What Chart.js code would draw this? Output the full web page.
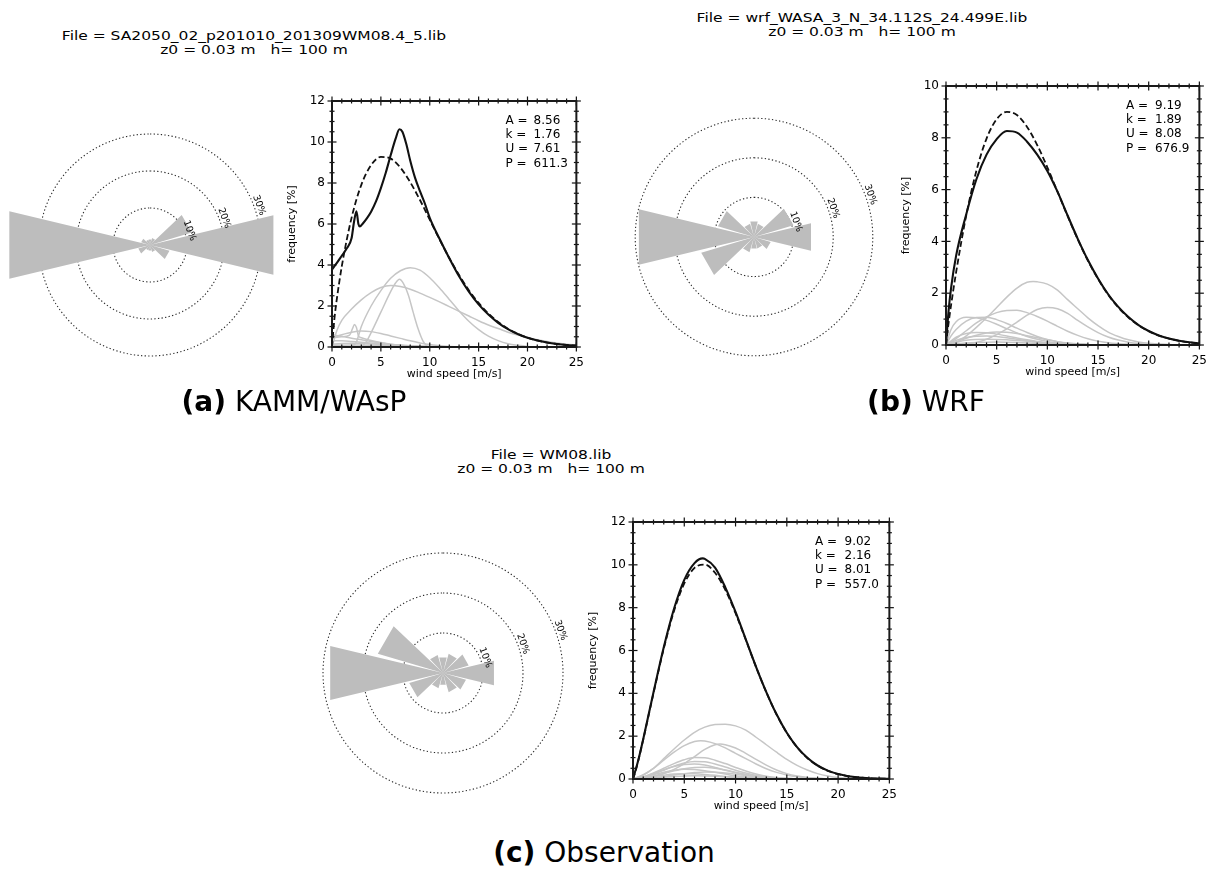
<!DOCTYPE html>
<html>
<head>
<meta charset="utf-8">
<script src="https://cdn.jsdelivr.net/npm/chart.js@4.4.1/dist/chart.umd.min.js"></script>
<style>
  html, body { margin: 0; padding: 0; background: #fff; width: 1211px; height: 874px; overflow: hidden; }
  .pane { position: absolute; }
  .ttl { position: absolute; font-family: "DejaVu Sans"; font-size: 15.5px; line-height: 17.5px; color: #000;
         text-align: center; white-space: pre; transform-origin: 50% 0; transform: translateX(-50%) scaleY(0.82); }
  .cap { position: absolute; font-family: "DejaVu Sans"; font-size: 28px; line-height: 28px; color: #000;
         white-space: pre; transform: translateX(-50%); }
  .cap b { font-weight: bold; }
</style>
</head>
<body>

<div class="ttl" style="left:254px; top:29px;">File = SA2050_02_p201010_201309WM08.4_5.lib
z0 = 0.03 m   h= 100 m</div>
<div class="ttl" style="left:862px; top:11px;">File = wrf_WASA_3_N_34.112S_24.499E.lib
z0 = 0.03 m   h= 100 m</div>
<div class="ttl" style="left:551px; top:448px;">File = WM08.lib
z0 = 0.03 m   h= 100 m</div>

<div class="pane" style="left:0px; top:95px;"><canvas id="roseA" width="300" height="300"></canvas></div>
<div class="pane" style="left:282px; top:86px;"><canvas id="distA" width="311" height="299"></canvas></div>
<div class="pane" style="left:604px; top:87px;"><canvas id="roseB" width="300" height="300"></canvas></div>
<div class="pane" style="left:896px; top:71px;"><canvas id="distB" width="320" height="312"></canvas></div>
<div class="pane" style="left:293px; top:523px;"><canvas id="roseC" width="300" height="300"></canvas></div>
<div class="pane" style="left:583px; top:507px;"><canvas id="distC" width="323" height="310"></canvas></div>

<div class="cap" style="left:294px; top:388px;"><b>(a)</b> KAMM/WAsP</div>
<div class="cap" style="left:926px; top:388px;"><b>(b)</b> WRF</div>
<div class="cap" style="left:604px; top:839px;"><b>(c)</b> Observation</div>

<script>
// ---- wind rose: sector directions (deg from north) and sector frequencies [%]
const sectorDirs = [0, 30, 60, 90, 120, 150, 180, 210, 240, 270, 300, 330];
const kammRose = [1.5, 2.0, 11.8, 34.3, 5.5, 2.0, 1.5, 1.5, 3.3, 39.1, 2.5, 1.5];
const wrfRose  = [4.0, 3.5, 10.4, 14.8, 4.4, 3.0, 3.0, 4.0, 13.9, 29.9, 9.5, 3.5];
const obsRose  = [4.0, 5.0, 6.7, 13.1, 6.0, 5.0, 3.0, 4.0, 8.8, 29.0, 17.0, 4.7];
const ringLevels = [10, 20, 30];
const ringLabels = ['10%', '20%', '30%'];

// ---- frequency distributions: wind speed [m/s] vs frequency [%]
const statNames = ['A =', 'k =', 'U =', 'P ='];
const kammStats = ['8.56', '1.76', '7.61', '611.3'];
const wrfStats  = ['9.19', '1.89', '8.08', '676.9'];
const obsStats  = ['9.02', '2.16', '8.01', '557.0'];

const fitSpeeds = [0, 0.25, 0.5, 1, 2, 3, 4, 5, 6, 7, 8, 9, 10, 11, 12, 13, 14, 15, 16, 17, 18, 19, 20, 21, 22, 23, 24, 25];
const kammFit = [0, 1.40, 2.36, 3.93, 6.30, 7.91, 8.87, 9.27, 9.19, 8.75, 8.04, 7.17, 6.21, 5.25, 4.34, 3.51, 2.77, 2.15, 1.63, 1.22, 0.89, 0.645, 0.457, 0.318, 0.217, 0.146, 0.097, 0.064];
const wrfFit  = [0, 0.83, 1.54, 2.81, 5.01, 6.73, 7.97, 8.72, 9.00, 8.88, 8.42, 7.72, 6.86, 5.92, 4.98, 4.08, 3.26, 2.55, 1.94, 1.45, 1.06, 0.759, 0.531, 0.365, 0.245, 0.162, 0.104, 0.066];
const obsFit  = [0, 0.37, 0.83, 1.85, 4.01, 6.09, 7.85, 9.13, 9.86, 10.01, 9.63, 8.83, 7.74, 6.50, 5.23, 4.05, 3.01, 2.15, 1.48, 0.98, 0.625, 0.383, 0.226, 0.129, 0.071, 0.037, 0.018, 0.008];

// all-sector histograms as [speed, frequency] pairs
const kammTotal = [[0,3.78],[0.5,4.1],[1,4.45],[1.5,4.8],[2,5.3],[2.25,6.1],[2.5,6.62],[2.7,6.0],[2.85,5.88],[3.2,6.05],[3.6,6.3],[4,6.6],[4.5,7.1],[5,7.75],[5.5,8.5],[6,9.35],[6.5,10.15],[6.9,10.62],[7.2,10.5],[7.6,9.9],[8,9.1],[8.5,8.25],[9,7.6],[9.5,7.0],[10,6.3],[11,5.28],[12,4.33],[13,3.45],[14,2.7],[15,2.08],[16,1.58],[17,1.18],[18,0.87],[19,0.63],[20,0.45],[21,0.32],[22,0.22],[23,0.15],[24,0.1],[25,0.065]];
const wrfTotal = [[0,0],[0.25,1.3],[0.5,2.2],[1,3.45],[2,5.05],[3,6.4],[4,7.35],[5,7.95],[6,8.26],[7,8.2],[8,7.85],[9,7.35],[10,6.72],[11,5.92],[12,5.0],[13,4.1],[14,3.28],[15,2.57],[16,1.96],[17,1.47],[18,1.08],[19,0.77],[20,0.54],[21,0.37],[22,0.25],[23,0.165],[24,0.106],[25,0.068]];
const obsTotal = [[0,0],[0.5,0.85],[1,1.87],[2,4.05],[3,6.15],[4,7.95],[5,9.3],[6,10.08],[6.8,10.3],[7,10.28],[8,9.87],[9,8.95],[10,7.8],[11,6.52],[12,5.24],[13,4.06],[14,3.02],[15,2.16],[16,1.49],[17,0.99],[18,0.63],[19,0.39],[20,0.23],[21,0.13],[22,0.072],[23,0.038],[24,0.018],[25,0.008]];

// per-sector histograms
const kammSectors = [
  [[0,0],[0.5,0.8],[1,1.3],[2,1.85],[3,2.3],[4,2.65],[5,2.9],[6,3.0],[7,2.95],[8,2.82],[9,2.63],[10,2.42],[11,2.2],[12,1.97],[13,1.74],[14,1.51],[15,1.28],[16,1.07],[17,0.9],[18,0.72],[19,0.58],[20,0.46],[21,0.36],[22,0.27],[23,0.2],[24,0.14],[25,0.1]],
  [[2,0],[2.5,0.25],[3,1.0],[4,2.0],[5,2.75],[6,3.35],[7,3.72],[8,3.87],[9,3.75],[10,3.38],[11,2.88],[12,2.32],[13,1.76],[14,1.26],[15,0.85],[16,0.53],[17,0.31],[18,0.16],[19,0.08],[20,0.03],[22,0]],
  [[3,0],[3.5,0.25],[4,0.7],[5,1.7],[6,2.7],[6.5,3.12],[6.9,3.3],[7.3,3.1],[7.8,2.55],[8.3,1.7],[8.8,0.9],[9.3,0.3],[9.8,0]],
  [[0,0.45],[1,0.5],[1.8,0.58],[2.1,0.9],[2.3,1.1],[2.5,0.95],[2.7,0.55],[3,0.45],[4,0.32],[5,0.22],[6,0.14],[8,0.06],[10,0.02],[12,0]],
  [[0,0.45],[1,0.6],[2,0.72],[3,0.78],[4,0.75],[5,0.66],[6,0.54],[7,0.42],[8,0.3],[9,0.2],[10,0.12],[11,0.07],[12,0.03],[14,0]],
  [[0,0.6],[1,0.52],[2,0.43],[3,0.35],[4,0.27],[5,0.2],[6,0.14],[8,0.06],[10,0.02],[12,0]],
  [[0,0.3],[1,0.3],[2,0.27],[3,0.23],[5,0.14],[7,0.07],[9,0.03],[11,0]],
  [[0,0.15],[2,0.18],[4,0.15],[6,0.1],[8,0.05],[10,0.02],[12,0]],
  [[0,0.08],[2,0.1],[4,0.09],[6,0.06],[8,0.03],[10,0.01],[12,0]]
];
const wrfSectors = [
  [[0,0],[1,0.1],[2,0.35],[3,0.68],[4,1.05],[5,1.45],[6,1.85],[7,2.2],[8,2.42],[8.6,2.45],[9,2.44],[10,2.35],[11,2.12],[12,1.75],[13,1.4],[14,1.05],[15,0.75],[16,0.5],[17,0.33],[18,0.2],[19,0.12],[20,0.07],[22,0.02],[25,0]],
  [[0,0],[2,0.03],[3,0.1],[4,0.22],[5,0.4],[6,0.62],[7,0.88],[8,1.15],[9,1.37],[10,1.45],[11,1.4],[12,1.22],[13,0.95],[14,0.7],[15,0.48],[16,0.31],[17,0.19],[18,0.11],[19,0.06],[20,0.03],[22,0.01]],
  [[0,0],[1,0.25],[2,0.55],[3,0.85],[4,1.08],[5,1.25],[6,1.33],[7,1.34],[8,1.25],[9,1.1],[10,0.92],[11,0.72],[12,0.53],[13,0.37],[14,0.24],[15,0.15],[16,0.09],[18,0.03],[20,0]],
  [[0,0],[0.5,0.6],[1,0.9],[2,1.07],[3,1.05],[4,0.95],[5,0.8],[6,0.63],[7,0.47],[8,0.33],[9,0.22],[10,0.14],[11,0.08],[12,0.05],[14,0.01]],
  [[0,0],[0.5,0.35],[1,0.6],[2,0.92],[3,1.06],[4,1.07],[5,0.98],[6,0.83],[7,0.65],[8,0.48],[9,0.33],[10,0.21],[11,0.13],[12,0.07],[14,0.02]],
  [[0,0],[1,0.3],[2,0.44],[3,0.48],[4,0.47],[5,0.42],[6,0.35],[7,0.27],[8,0.2],[9,0.14],[10,0.09],[12,0.03],[14,0]],
  [[0,0],[1,0.12],[2,0.26],[3,0.38],[4,0.46],[5,0.5],[6,0.49],[7,0.44],[8,0.36],[9,0.28],[10,0.2],[11,0.13],[12,0.08],[14,0.02]],
  [[0,0],[1,0.18],[2,0.29],[3,0.34],[4,0.35],[5,0.33],[6,0.28],[7,0.22],[8,0.16],[10,0.07],[12,0.02]],
  [[0,0],[1,0.1],[2,0.18],[4,0.22],[6,0.2],[8,0.14],[10,0.08],[12,0.04],[14,0.01]],
  [[0,0],[1,0.05],[3,0.1],[5,0.12],[7,0.1],[9,0.06],[11,0.03],[13,0.01]]
];
const obsSectors = [
  [[0,0],[1,0.2],[2,0.5],[3,0.95],[4,1.4],[5,1.82],[6,2.18],[7,2.42],[8,2.54],[9,2.56],[10,2.48],[11,2.28],[12,1.95],[13,1.6],[14,1.25],[15,0.92],[16,0.64],[17,0.42],[18,0.25],[19,0.14],[20,0.07],[22,0.02],[25,0]],
  [[0,0],[1,0.18],[2,0.5],[3,0.88],[4,1.25],[5,1.56],[6,1.75],[6.6,1.79],[7,1.77],[8,1.65],[9,1.45],[10,1.2],[11,0.95],[12,0.7],[13,0.48],[14,0.31],[15,0.19],[16,0.11],[17,0.06],[19,0.01]],
  [[0,0],[2,0.1],[3,0.25],[4,0.45],[5,0.72],[6,1.05],[7,1.38],[8,1.6],[8.5,1.63],[9,1.6],[10,1.45],[11,1.2],[12,0.92],[13,0.65],[14,0.42],[15,0.25],[16,0.14],[17,0.07],[19,0.01]],
  [[0,0],[1,0.1],[2,0.28],[3,0.5],[4,0.72],[5,0.9],[6,1.0],[7,0.99],[8,0.88],[9,0.72],[10,0.54],[11,0.37],[12,0.23],[13,0.13],[14,0.07],[16,0.01]],
  [[0,0],[1,0.08],[2,0.23],[3,0.41],[4,0.6],[5,0.75],[6,0.82],[7,0.8],[8,0.7],[9,0.56],[10,0.41],[11,0.28],[12,0.17],[13,0.1],[14,0.05],[16,0.01]],
  [[0,0],[1,0.1],[2,0.26],[3,0.43],[4,0.58],[5,0.68],[6,0.7],[7,0.65],[8,0.54],[9,0.41],[10,0.29],[11,0.19],[12,0.11],[13,0.06],[15,0.01]],
  [[0,0],[1,0.05],[2,0.14],[3,0.26],[4,0.38],[5,0.48],[6,0.54],[7,0.55],[8,0.5],[9,0.42],[10,0.32],[11,0.22],[12,0.14],[13,0.08],[15,0.02]],
  [[0,0],[1,0.08],[2,0.2],[3,0.32],[4,0.41],[5,0.45],[6,0.44],[7,0.39],[8,0.31],[9,0.23],[10,0.15],[11,0.09],[12,0.05],[14,0.01]],
  [[0,0],[2,0.06],[3,0.12],[4,0.19],[5,0.25],[6,0.3],[7,0.33],[8,0.32],[9,0.28],[10,0.22],[11,0.16],[12,0.1],[13,0.06],[15,0.01]],
  [[0,0],[1,0.05],[2,0.12],[3,0.18],[4,0.23],[5,0.25],[6,0.24],[7,0.21],[8,0.17],[9,0.12],[10,0.08],[12,0.03],[14,0]],
  [[0,0],[2,0.06],[4,0.12],[6,0.15],[8,0.13],[10,0.08],[12,0.04],[14,0.01]]
];

const TXT = '"DejaVu Sans", sans-serif';
const WEDGE_HALF = 13.5;   // half opening of each drawn sector [deg]

// ---------------- wind roses ----------------
const roseLabelPlugin = {
  id: 'roseLabels',
  afterDatasetsDraw(chart) {
    const {ctx, scales: {x, y}} = chart;
    const ppu = x.getPixelForValue(1) - x.getPixelForValue(0);
    const ang = 70 * Math.PI / 180;
    ctx.save();
    ctx.font = '9.5px ' + TXT;
    ctx.fillStyle = '#000';
    ctx.textAlign = 'center';
    ctx.textBaseline = 'middle';
    ringLevels.forEach((r, i) => {
      const rr = r + 5 / ppu;
      const px = x.getPixelForValue(rr * Math.sin(ang));
      const py = y.getPixelForValue(rr * Math.cos(ang));
      ctx.save();
      ctx.translate(px, py);
      ctx.rotate(ang);
      ctx.fillText(ringLabels[i], 0, 0);
      ctx.restore();
    });
    ctx.restore();
  }
};

function rose(id, values, span) {
  const wedge = [];
  values.forEach((v, i) => {
    const a1 = (sectorDirs[i] - WEDGE_HALF) * Math.PI / 180;
    const a2 = (sectorDirs[i] + WEDGE_HALF) * Math.PI / 180;
    wedge.push({x: 0, y: 0}, {x: v * Math.sin(a1), y: v * Math.cos(a1)}, {x: v * Math.sin(a2), y: v * Math.cos(a2)});
  });
  wedge.push({x: 0, y: 0});

  const datasets = [{
    data: wedge, fill: 'shape', backgroundColor: '#bdbdbd',
    borderColor: 'rgba(0,0,0,0)', borderWidth: 0, pointRadius: 0, tension: 0
  }];
  ringLevels.forEach(r => {
    const pts = [];
    for (let k = 0; k <= 180; k++) {
      const t = k / 180 * 2 * Math.PI;
      pts.push({x: r * Math.sin(t), y: r * Math.cos(t)});
    }
    datasets.push({
      data: pts, fill: false, borderColor: '#2a2a2a', borderWidth: 1.1,
      borderDash: [1.3, 2.3], pointRadius: 0, tension: 0
    });
  });

  new Chart(document.getElementById(id), {
    type: 'line',
    data: {datasets},
    options: {
      responsive: false, animation: false, events: [],
      layout: {padding: 0},
      plugins: {legend: {display: false}, tooltip: {enabled: false}},
      scales: {
        x: {type: 'linear', min: -span, max: span, display: false},
        y: {type: 'linear', min: -span, max: span, display: false}
      }
    },
    plugins: [roseLabelPlugin]
  });
}

rose('roseA', kammRose, 40.54);
rose('roseB', wrfRose, 37.88);
rose('roseC', obsRose, 37.5);

// ---------------- frequency distributions ----------------
const framePlugin = {
  id: 'frame',
  afterDatasetsDraw(chart, args, opts) {
    const {ctx, chartArea: a, scales: {x, y}} = chart;
    ctx.save();
    ctx.strokeStyle = '#111';
    ctx.lineWidth = 1.2;
    const seg = (x1, y1, x2, y2) => { ctx.beginPath(); ctx.moveTo(x1, y1); ctx.lineTo(x2, y2); ctx.stroke(); };
    const isMajor = (v, step) => Math.abs(v / step - Math.round(v / step)) < 1e-6;
    for (let v = x.min; v <= x.max + 1e-9; v += opts.xMinor) {
      const p = x.getPixelForValue(v);
      const L = isMajor(v, opts.xMajor) ? 4.5 : 2.5;
      seg(p, a.bottom - L, p, a.bottom + L);
      seg(p, a.top - L, p, a.top + L);
    }
    for (let v = y.min; v <= y.max + 1e-9; v += opts.yMinor) {
      const p = y.getPixelForValue(v);
      const L = isMajor(v, opts.yMajor) ? 4.5 : 2.5;
      seg(a.left - L, p, a.left + L, p);
      seg(a.right - L, p, a.right + L, p);
    }
    ctx.lineWidth = 2;
    ctx.strokeStyle = '#1a1a1a';
    ctx.strokeRect(a.left, a.top, a.right - a.left, a.bottom - a.top);

    // fit parameters
    const w = a.right - a.left;
    ctx.font = '12px ' + TXT;
    ctx.fillStyle = '#000';
    ctx.textBaseline = 'middle';
    ctx.textAlign = 'left';
    opts.stats.forEach((s, i) => {
      const yy = a.top + 19.5 + i * 14.4;
      ctx.fillText(statNames[i], a.left + 0.71 * w, yy);
      ctx.fillText(s, a.left + 0.825 * w, yy);
    });
    ctx.restore();
  }
};

function pairs(xs, ys) { return xs.map((u, i) => ({x: u, y: ys[i]})); }
function pts(list) { return list.map(([u, f]) => ({x: u, y: f})); }

function distribution(id, fit, total, sectors, stats, yMax, padRight) {
  const base = {fill: false, pointRadius: 0, cubicInterpolationMode: 'monotone'};
  const datasets = [
    Object.assign({data: pairs(fitSpeeds, fit), borderColor: '#111', borderWidth: 1.8, borderDash: [6, 3]}, base),
    Object.assign({data: pts(total), borderColor: '#111', borderWidth: 2.1}, base)
  ];
  sectors.forEach(s => datasets.push(Object.assign({data: pts(s), borderColor: '#c6c6c6', borderWidth: 1.5}, base)));

  const tickFont = {family: TXT, size: 12};
  const titleFont = {family: TXT, size: 11};
  new Chart(document.getElementById(id), {
    type: 'line',
    data: {datasets},
    options: {
      responsive: false, animation: false, events: [],
      layout: {padding: {top: 15, right: padRight, bottom: 4, left: 0}},
      plugins: {
        legend: {display: false}, tooltip: {enabled: false},
        frame: {xMajor: 5, xMinor: 1, yMajor: 2, yMinor: 0.5, stats}
      },
      scales: {
        x: {
          type: 'linear', min: 0, max: 25,
          ticks: {stepSize: 5, font: tickFont, color: '#000', padding: 9, maxRotation: 0, autoSkip: false},
          grid: {display: false, drawTicks: false},
          border: {display: false},
          title: {display: true, text: 'wind speed [m/s]', font: titleFont, color: '#000', padding: 0},
          afterFit: s => { s.height = 34; }
        },
        y: {
          type: 'linear', min: 0, max: yMax,
          ticks: {stepSize: 2, font: tickFont, color: '#000', padding: 7},
          grid: {display: false, drawTicks: false},
          border: {display: false},
          title: {display: true, text: 'frequency [%]', font: titleFont, color: '#000', padding: {top: 3.4, bottom: 0}},
          afterFit: s => { s.width = 50; }
        }
      }
    },
    plugins: [framePlugin]
  });
}

distribution('distA', kammFit, kammTotal, kammSectors, kammStats, 12, 14);
distribution('distB', wrfFit, wrfTotal, wrfSectors, wrfStats, 10, 11);
distribution('distC', obsFit, obsTotal, obsSectors, obsStats, 12, 14);
</script>
</body>
</html>
